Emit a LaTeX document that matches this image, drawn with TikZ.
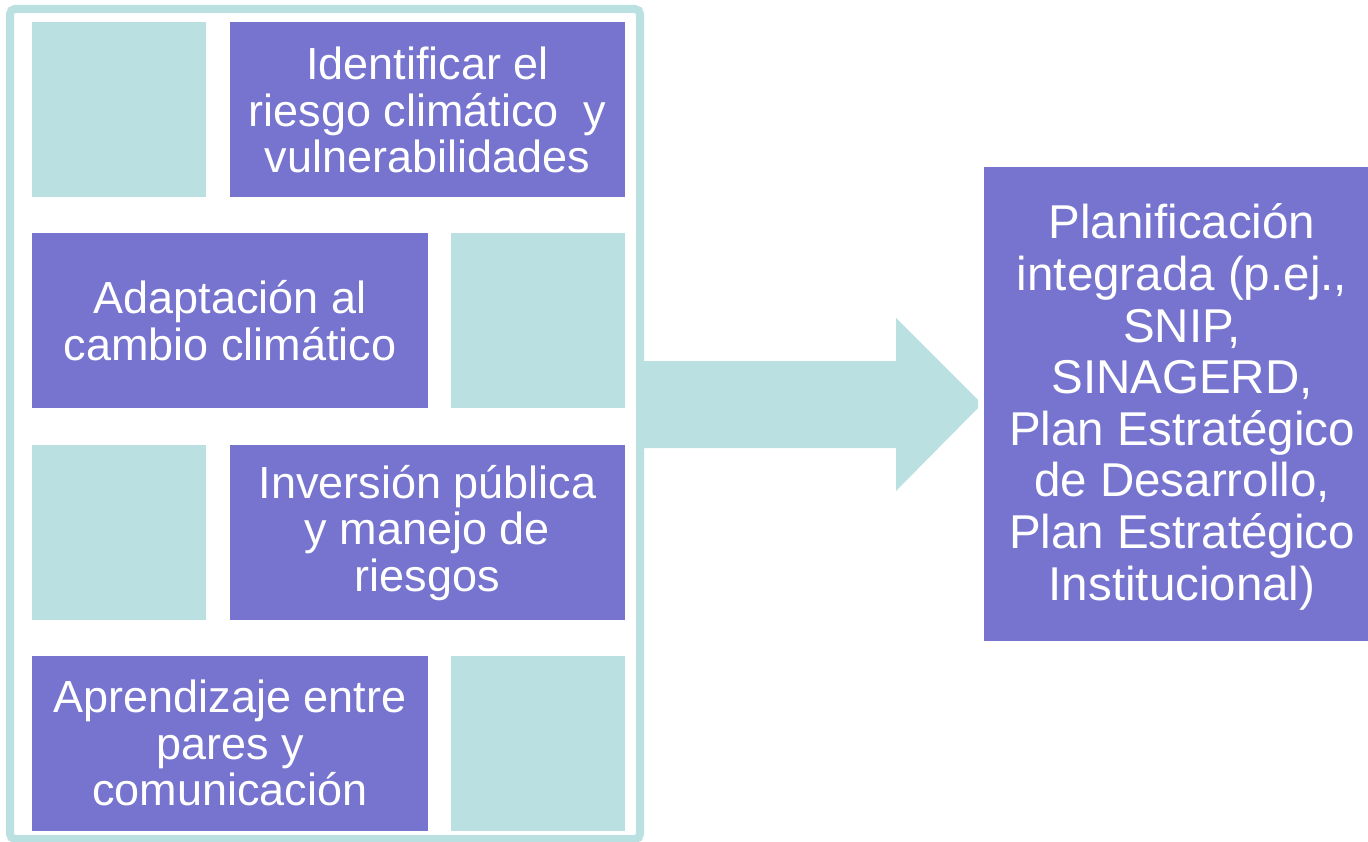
\documentclass[tikz,border=0pt]{standalone}
\usepackage{fontspec}
\setmainfont{Liberation Sans}
\definecolor{purp}{HTML}{7674CF}
\definecolor{teal1}{HTML}{BAE0E2}
\begin{document}
\begin{tikzpicture}[x=1pt,y=-1pt,
  purpbox/.style={fill=purp,draw=none},
  tealbox/.style={fill=teal1,draw=none},
  lbl/.style={text=white,align=center,inner sep=0pt,font=\fontsize{45}{46.8}\selectfont},
  rlbl/.style={text=white,align=center,inner sep=0pt,font=\fontsize{47.5}{51.6}\selectfont}]
\useasboundingbox (0,0) rectangle (1368,842);
% block arrow
\fill[teal1] (640,361) -- (896,361) -- (896,318) -- (978,400) -- (978,408) -- (896,491) -- (896,448) -- (640,448) -- cycle;
% frame
\draw[teal1,line width=8pt,rounded corners=5pt] (10,9) rectangle (640,839);
% row 1
\fill[tealbox] (32,22) rectangle (206,197);
\fill[purpbox] (230,22) rectangle (625,197);
\node[lbl] (t1) at (427.5,110) {Identificar el\\riesgo climático~ y\\vulnerabilidades};
% row 2
\fill[purpbox] (32,233) rectangle (428,408);
\fill[tealbox] (451,233) rectangle (625,408);
\node[lbl] (t2) at (230,320.5) {Adaptación al\\cambio climático};
% row 3
\fill[tealbox] (32,445) rectangle (206,620);
\fill[purpbox] (230,445) rectangle (625,620);
\node[lbl] (t3) at (427.5,533) {Inversión pública\\y manejo de\\riesgos};
% row 4
\fill[purpbox] (32,656) rectangle (428,831);
\fill[tealbox] (451,656) rectangle (625,831);
\node[lbl] (t4) at (230,743) {Aprendizaje entre\\pares y\\comunicación};
% right box
\fill[purpbox] (984,167) rectangle (1368,641);
\node[rlbl] (r) at (1182,407) {Planificación\\integrada (p.ej.,\\SNIP,\\SINAGERD,\\Plan Estratégico\\de Desarrollo,\\Plan Estratégico\\Institucional)};
\end{tikzpicture}
\end{document}
